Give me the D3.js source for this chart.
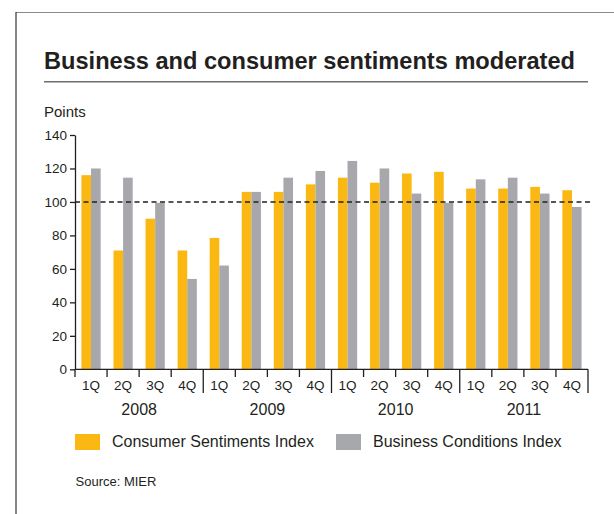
<!DOCTYPE html>
<html>
<head>
<meta charset="utf-8">
<script src="https://cdn.jsdelivr.net/npm/d3@7"></script>
<style>
  body { margin: 0; background: #fff; }
  text { font-family: "Liberation Sans", Arial, sans-serif; }
</style>
</head>
<body>
<div id="vis"></div>
<script>
const years = ["2008", "2009", "2010", "2011"];
const quarters = ["1Q", "2Q", "3Q", "4Q"];
const consumer = [116, 71, 90, 71, 78.5, 106, 106, 110.5, 114.5, 111.5, 117, 118, 108, 108, 109, 107];
const business = [120, 114.5, 99.5, 54, 62, 106, 114.5, 118.5, 124.5, 120, 105, 99.5, 113.5, 114.5, 105, 97];
const yTicks = [0, 20, 40, 60, 80, 100, 120, 140];
const seriesNames = ["Consumer Sentiments Index", "Business Conditions Index"];
const colores = ["#fbb813", "#a7a8ab"];

const width = 614;
const height = 514;

const SVG = d3.select("#vis").append("svg").attr("width", width).attr("height", height);

// periodos: una entrada por trimestre
const periods = [];
years.forEach(y => quarters.forEach(q => periods.push(y + " " + q)));

// marco
SVG.append("line").attr("x1", 16).attr("x2", width).attr("y1", 12.5).attr("y2", 12.5)
  .attr("stroke", "#8a8a8a").attr("stroke-width", 1.2);
SVG.append("line").attr("x1", 16).attr("x2", 16).attr("y1", 12).attr("y2", height)
  .attr("stroke", "#333").attr("stroke-width", 1.2);

// titulo
SVG.append("text").attr("x", 44).attr("y", 69)
  .text("Business and consumer sentiments moderated")
  .attr("font-size", "23.6px").attr("font-weight", "bold").style("fill", "#231f20");
SVG.append("line").attr("x1", 44).attr("x2", 588).attr("y1", 81.7).attr("y2", 81.7)
  .attr("stroke", "#6d6e71").attr("stroke-width", 1.5);

SVG.append("text").attr("x", 44).attr("y", 116.5).text("Points")
  .attr("font-size", "15px").style("fill", "#231f20");

const x0 = d3.scaleBand().domain(periods).range([75, 588]).paddingInner(0.4).paddingOuter(0.2);
const x1 = d3.scaleBand().domain([0, 1]).range([0, x0.bandwidth()]);
const y = d3.scaleLinear().domain([0, 140]).range([369.3, 135]);

// eje y
const yAxis = SVG.append("g").attr("transform", "translate(75,0)")
  .call(d3.axisLeft(y).tickValues(yTicks).tickSize(5).tickPadding(3).tickSizeOuter(0));
yAxis.select(".domain").attr("stroke", "#231f20").attr("stroke-width", 1.3);
yAxis.selectAll(".tick line").attr("stroke", "#231f20").attr("stroke-width", 1.3);
yAxis.selectAll(".tick text").attr("font-size", "13.5px").attr("font-family", "Liberation Sans, Arial, sans-serif").style("fill", "#231f20");

// barras
const groups = SVG.selectAll("g.periodo")
  .data(periods.map((p, i) => ({ p: p, vals: [consumer[i], business[i]] })))
  .enter().append("g").attr("class", "periodo")
  .attr("transform", d => `translate(${x0(d.p)},0)`);

groups.selectAll("rect")
  .data(d => d.vals)
  .enter().append("rect")
  .attr("x", (d, i) => x1(i))
  .attr("width", x1.bandwidth())
  .attr("y", d => y(d))
  .attr("height", d => y(0) - y(d))
  .style("fill", (d, i) => colores[i]);

// eje x
const step = x0.step();
const xAxisG = SVG.append("g");
xAxisG.append("line").attr("x1", 75).attr("x2", 588).attr("y1", y(0)).attr("y2", y(0))
  .attr("stroke", "#231f20").attr("stroke-width", 1.3);
xAxisG.selectAll("line.tick")
  .data(d3.range(periods.length + 1))
  .enter().append("line").attr("class", "tick")
  .attr("x1", i => 75 + i * step).attr("x2", i => 75 + i * step)
  .attr("y1", y(0))
  .attr("y2", i => (i % 4 === 0 && i > 0) ? 393 : 377)
  .attr("stroke", "#231f20").attr("stroke-width", 1.3);

xAxisG.selectAll("text.q")
  .data(periods)
  .enter().append("text").attr("class", "q")
  .attr("x", d => x0(d) + x0.bandwidth() / 2)
  .attr("y", 389.5)
  .attr("text-anchor", "middle")
  .attr("font-size", "13.5px")
  .style("fill", "#231f20")
  .text(d => d.split(" ")[1]);

xAxisG.selectAll("text.year")
  .data(years)
  .enter().append("text").attr("class", "year")
  .attr("x", (d, i) => 75 + (i * 4 + 2) * step)
  .attr("y", 415)
  .attr("text-anchor", "middle")
  .attr("font-size", "16px")
  .style("fill", "#231f20")
  .text(d => d);

// linea de referencia en 100
SVG.append("line").attr("x1", 75).attr("x2", 593).attr("y1", y(100)).attr("y2", y(100))
  .attr("stroke", "#231f20").attr("stroke-width", 1.6).attr("stroke-dasharray", "5,3.5");

// leyenda
const legendX = [75, 336];
const legend = SVG.selectAll("g.leyenda")
  .data(seriesNames)
  .enter().append("g").attr("class", "leyenda")
  .attr("transform", (d, i) => `translate(${legendX[i]},434)`);
legend.append("rect").attr("width", 25).attr("height", 16).style("fill", (d, i) => colores[i]);
legend.append("text").attr("x", 37).attr("y", 12.5).attr("font-size", "16px")
  .style("fill", "#231f20").text(d => d);

SVG.append("text").attr("x", 75.5).attr("y", 485.7).text("Source: MIER")
  .attr("font-size", "13px").style("fill", "#231f20");
</script>
</body>
</html>
